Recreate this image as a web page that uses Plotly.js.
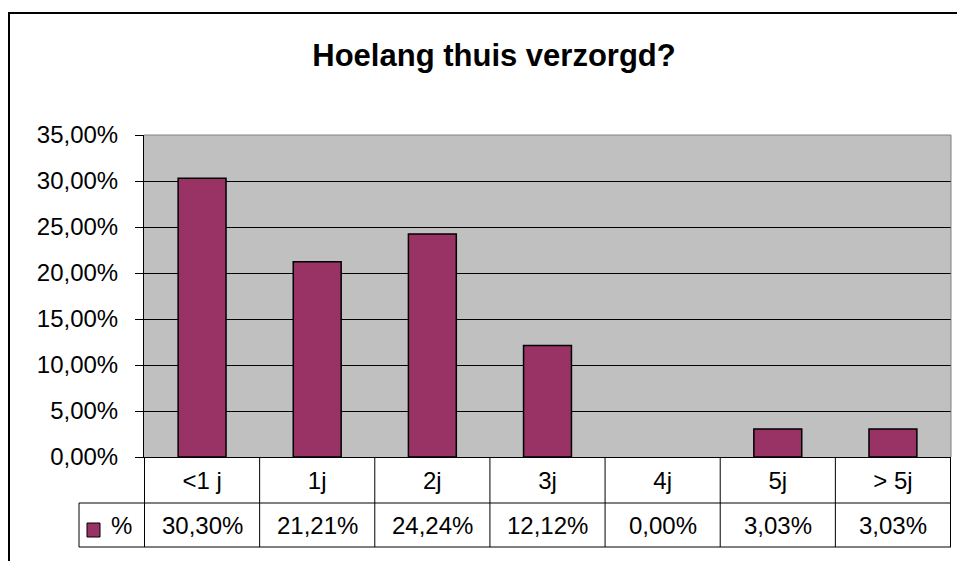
<!DOCTYPE html>
<html>
<head>
<meta charset="utf-8">
<script src="https://cdn.plot.ly/plotly-3.0.1.min.js"></script>
<style>html,body{margin:0;padding:0;background:#fff;}#chart{width:957px;height:561px;}</style>
</head>
<body>
<div id="chart"></div>
<script>
const chartTitle = "Hoelang thuis verzorgd?";
const categories = ["<1 j", "1j", "2j", "3j", "4j", "5j", "> 5j"];
const seriesName = "%";
const values = [30.30, 21.21, 24.24, 12.12, 0.00, 3.03, 3.03];
const yTicks = [0, 5, 10, 15, 20, 25, 30, 35];

const FONT = "Liberation Sans, Arial, sans-serif";
const BAR = "#993366";
const FS = 24;

// Table geometry in paper units (plot area height 322px, width 807px)
const rowSplit = -46 / 322;
const rowBottom = -90 / 322;
const legendLeft = -65 / 807;

const shapes = [];
for (let i = 0; i <= categories.length; i++) {
  shapes.push({type: "line", xref: "x", yref: "paper", x0: i - 0.5, x1: i - 0.5, y0: 0, y1: rowBottom,
    line: {color: "#000", width: 1}});
}
shapes.push({type: "line", xref: "paper", yref: "paper", x0: legendLeft, x1: 1, y0: rowSplit, y1: rowSplit, line: {color: "#000", width: 1}});
shapes.push({type: "line", xref: "paper", yref: "paper", x0: legendLeft, x1: 1, y0: rowBottom, y1: rowBottom, line: {color: "#000", width: 1}});
shapes.push({type: "line", xref: "paper", yref: "paper", x0: legendLeft, x1: legendLeft, y0: rowSplit, y1: rowBottom, line: {color: "#000", width: 1}});
shapes.push({type: "line", xref: "paper", yref: "paper", x0: 0, x1: 1, y0: 1, y1: 1, line: {color: "#808080", width: 1}});
shapes.push({type: "line", xref: "paper", yref: "paper", x0: 1, x1: 1, y0: 0, y1: 1, line: {color: "#808080", width: 1}});
shapes.push({type: "rect", xref: "paper", yref: "paper", x0: -57 / 807, x1: -44 / 807, y0: -66 / 322, y1: -80 / 322,
  fillcolor: BAR, line: {color: "#000", width: 1}});
shapes.push({type: "rect", xref: "paper", yref: "paper", x0: -135 / 807, x1: 1.05, y0: 444 / 322, y1: -0.4,
  line: {color: "#000", width: 2}, fillcolor: "rgba(0,0,0,0)"});

const fmt = v => v.toFixed(2).replace(".", ",") + "%";
const annotations = categories.map((c, i) => ({
  xref: "x", yref: "paper", x: c, y: (rowSplit + rowBottom) / 2, yanchor: "middle", xanchor: "center",
  text: fmt(values[i]), showarrow: false, font: {family: FONT, size: FS, color: "#000"}
}));
annotations.push({xref: "paper", yref: "paper", x: -23 / 807, y: (rowSplit + rowBottom) / 2, xanchor: "center", yanchor: "middle",
  text: seriesName, showarrow: false, font: {family: FONT, size: FS, color: "#000"}});

const trace = {
  type: "bar", x: categories, y: values, name: seriesName,
  marker: {color: BAR, line: {color: "#000", width: values.map(v => v > 0 ? 1.5 : 0)}},
  hoverinfo: "x+y"
};

const layout = {
  width: 957, height: 561,
  margin: {l: 144, r: 6, t: 135, b: 104, pad: 0},
  paper_bgcolor: "#fff", plot_bgcolor: "#C0C0C0",
  separators: ",.",
  showlegend: false,
  bargap: 0.584,
  title: {text: "<b>" + chartTitle + "</b>", x: 494 / 957, xanchor: "center", xref: "container",
    y: 1 - 55 / 561, yanchor: "middle", yref: "container",
    font: {family: FONT, size: 31, color: "#000"}},
  xaxis: {type: "category", categoryorder: "array", categoryarray: categories,
    showline: true, linecolor: "#000", linewidth: 1, ticks: "", showgrid: false,
    ticklabelstandoff: 2,
    tickfont: {family: FONT, size: FS, color: "#000"}, fixedrange: true},
  yaxis: {range: [0, 35], tickvals: yTicks, ticktext: yTicks.map(t => t.toFixed(2).replace(".", ",") + "%"),
    showline: true, linecolor: "#000", linewidth: 1,
    ticks: "outside", ticklen: 8, tickcolor: "#000", tickwidth: 1, ticklabelstandoff: 12,
    showgrid: true, gridcolor: "#000", gridwidth: 1, zeroline: false,
    tickfont: {family: FONT, size: FS, color: "#000"}, fixedrange: true},
  shapes: shapes,
  annotations: annotations
};

Plotly.newPlot("chart", [trace], layout, {displayModeBar: false, staticPlot: true});
</script>
</body>
</html>
